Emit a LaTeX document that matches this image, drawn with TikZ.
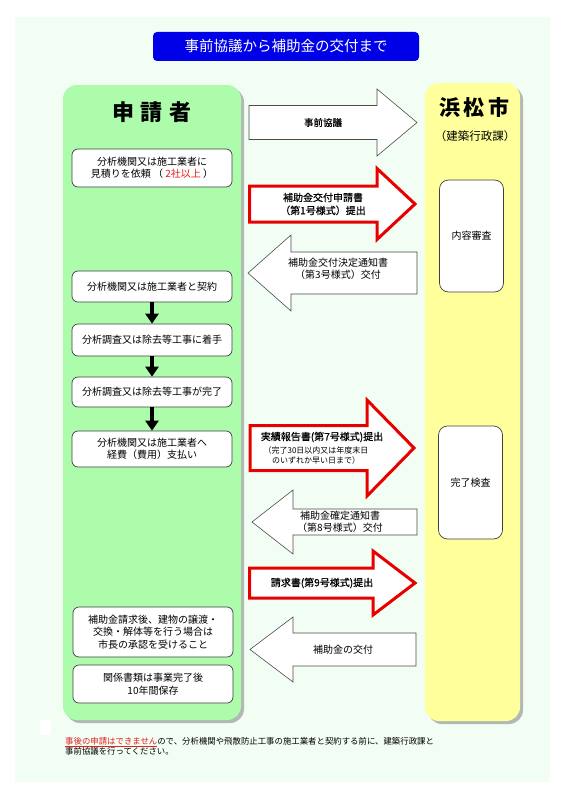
\documentclass[tikz,border=0pt]{standalone}
\usepackage{fontspec}
\setmainfont{Noto Sans CJK JP}
\newfontfamily\jpfb[FakeBold=0.6]{Noto Sans CJK JP}
\usetikzlibrary{arrows.meta,shadows}
\definecolor{bgmint}{RGB}{242,253,244}
\definecolor{pgreen}{RGB}{172,252,172}
\definecolor{pyellow}{RGB}{255,255,155}
\definecolor{tblue}{RGB}{0,0,232}
\definecolor{ared}{RGB}{232,0,0}
\definecolor{tred}{RGB}{230,30,30}
\tikzset{
  panel/.style={rounded corners=14pt, drop shadow={shadow xshift=3pt,shadow yshift=-3pt,opacity=0.45,fill=black!60}},
  lbox/.style={draw=black!75, fill=white, rounded corners=6pt, line width=0.7pt, align=center,
    font=\fontsize{10}{12.5}\selectfont, inner sep=0pt, minimum width=160pt},
  rbox/.style={draw=black!75, fill=white, rounded corners=9pt, line width=0.7pt, align=center,
    font=\fontsize{10}{12}\selectfont, inner sep=0pt, minimum width=64pt, minimum height=112pt},
  warrow/.style={draw=black!70, fill=white, line width=0.6pt},
  rarrow/.style={draw=ared, fill=white, line width=3pt, line join=miter},
  atext/.style={align=center, font=\fontsize{10}{12.5}\selectfont, inner sep=0pt},
  darr/.style={line width=4pt, -{Triangle[width=13pt,length=10pt]}},
}
\begin{document}
\begin{tikzpicture}[x=1pt,y=-1pt]
\useasboundingbox (0,0) rectangle (566,800);
\fill[white] (0,0) rectangle (566,800);
\fill[bgmint] (15,17) rectangle (550,782);
\fill[white] (40,720) rectangle (51,735);

% title
\node[fill=tblue, rounded corners=4pt, minimum width=266pt, minimum height=29pt, inner sep=0pt,
  text=white, font=\fontsize{14.5}{16}\selectfont] (title) at (286,46.5) {事前協議から補助金の交付まで};

% panels
\path[panel, fill=pgreen] (63,85) rectangle (241,720);
\path[panel, fill=pyellow] (425,83) rectangle (520,721);

\node[font=\fontsize{22}{24}\selectfont\bfseries, inner sep=0pt] (appl) at (152,112) {申\hspace{7pt}請\hspace{7pt}者};
\node[font=\fontsize{21}{24}\selectfont\bfseries, inner sep=0pt] (city) at (474.5,108) {浜\hspace{4pt}松\hspace{4pt}市};
\node[font=\fontsize{11.5}{13}\selectfont, inner sep=0pt] (dept) at (475,136) {（建築行政課）};

% left boxes
\node[lbox, minimum height=38pt] (b1) at (152,168) {分析機関又は施工業者に\\見積りを依頼 （ {\color{tred}2社以上} ）};
\node[lbox, minimum height=31pt] (b2) at (152,286.5) {分析機関又は施工業者と契約};
\node[lbox, minimum height=32pt] (b3) at (152,340) {分析調査又は除去等工事に着手};
\node[lbox, minimum height=30pt] (b4) at (152,392) {分析調査又は除去等工事が完了};
\node[lbox, minimum height=36pt] (b5) at (152,449) {分析機関又は施工業者へ\\経費（費用）支払い};
\node[lbox, minimum height=50pt] (b6) at (153,632) {補助金請求後、建物の譲渡・\\交換・解体等を行う場合は\\市長の承認を受けること};
\node[lbox, minimum height=38pt] (b7) at (153,684) {関係書類は事業完了後\\10年間保存};

\draw[darr] (b2.south) -- (b3.north);
\draw[darr] (b3.south) -- (b4.north);
\draw[darr] (b4.south) -- (b5.north);

% right boxes
\node[rbox] (r1) at (471.5,236) {内容審査};
\node[rbox, minimum height=113pt] (r2) at (470.5,482.5) {完了検査};

% block arrows
\path[warrow] (249,105.5) -- (377,105.5) -- (377,89) -- (417,122.5) -- (377,156) -- (377,139.5) -- (249,139.5) -- cycle;
\path[rarrow] (249.5,186) -- (377,186) -- (377,168.5) -- (415,204) -- (377,239.5) -- (377,222) -- (249.5,222) -- cycle;
\path[warrow] (417,252) -- (291,252) -- (291,235) -- (248,273) -- (291,311) -- (291,294) -- (417,294) -- cycle;
\path[rarrow] (250,425.5) -- (367,425.5) -- (367,400) -- (414,448) -- (367,496) -- (367,470.5) -- (250,470.5) -- cycle;
\path[warrow] (417,509) -- (293,509) -- (293,490) -- (252,522) -- (293,554) -- (293,535) -- (417,535) -- cycle;
\path[rarrow] (249.5,568) -- (373,568) -- (373,551) -- (415,583) -- (373,615) -- (373,598) -- (249.5,598) -- cycle;
\path[warrow] (416,633) -- (293,633) -- (293,617) -- (250,649.5) -- (293,682) -- (293,666) -- (416,666) -- cycle;

% arrow texts
\node[atext, font=\fontsize{9.5}{12}\selectfont\jpfb] (t1) at (323,122.5) {事前協議};
\node[atext, font=\fontsize{10}{13}\selectfont\jpfb] (t2) at (323,204) {補助金交付申請書\\（第1号様式）提出};
\node[atext] (t3) at (338,269) {補助金交付決定通知書\\（第3号様式）交付};
\node[atext, font=\fontsize{10}{12}\selectfont\jpfb] (t4) at (322,437) {実績報告書(第7号様式)提出};
\node[atext, font=\fontsize{8}{10}\selectfont] (t4b) at (316,455.5) {（完了30日以内又は年度末日\\のいずれか早い日まで）};
\node[atext, font=\fontsize{10}{11.5}\selectfont] (t5) at (340,522) {補助金確定通知書\\（第8号様式）交付};
\node[atext, font=\fontsize{10}{12}\selectfont\jpfb] (t6) at (322,583) {請求書(第9号様式)提出};
\node[atext] (t7) at (343,649.5) {補助金の交付};

% note
\node[anchor=north west, align=left, inner sep=0pt, font=\fontsize{8.4}{10.2}\selectfont] (note) at (65,737)
  {{\color{tred}\underline{事後の申請はできません}}ので、分析機関や飛散防止工事の施工業者と契約する前に、建築行政課と\\事前協議を行ってください。};
\end{tikzpicture}
\end{document}
